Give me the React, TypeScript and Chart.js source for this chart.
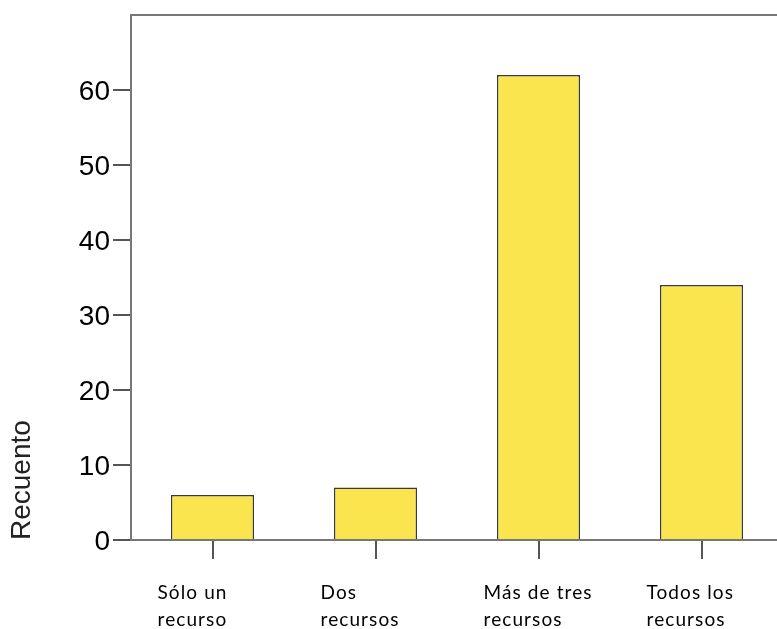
import React, { useEffect, useRef } from "react";
import { Chart, registerables } from "chart.js";

Chart.register(...registerables);

const categories: string[][] = [
  ["Sólo un", "recurso"],
  ["Dos", "recursos"],
  ["Más de tres", "recursos"],
  ["Todos los", "recursos"],
];
const counts: number[] = [6, 7, 62, 34];
const yTickValues: number[] = [0, 10, 20, 30, 40, 50, 60];
const yAxisTitle = "Recuento";

export default function App() {
  const ref = useRef<HTMLCanvasElement | null>(null);
  useEffect(() => {
    if (!ref.current) return;
    const spacingPlugin = {
      id: "xLabelSpacing",
      beforeDraw(chart: any) {
        chart.ctx.letterSpacing = "0px";
      },
      afterDatasetsDraw(chart: any) {
        chart.ctx.letterSpacing = "1.1px";
      },
      afterDraw(chart: any) {
        chart.ctx.letterSpacing = "0px";
      },
    };
    const chart = new Chart(ref.current, {
      type: "bar",
      data: {
        labels: categories,
        datasets: [
          {
            data: counts,
            backgroundColor: "#fbe54e",
            borderColor: "#3a3a3a",
            borderWidth: 1.5,
            barPercentage: 0.51,
            categoryPercentage: 1,
          },
        ],
      },
      options: {
        animation: false,
        responsive: false,
        devicePixelRatio: 1,
        layout: { padding: { top: 15, left: 0, right: 0, bottom: 0 } },
        plugins: { legend: { display: false }, tooltip: { enabled: false } },
        scales: {
          x: {
            type: "category",
            position: "bottom",
            grid: {
              display: true,
              drawOnChartArea: false,
              drawTicks: true,
              offset: false,
              tickLength: 19,
              tickColor: "#555",
              lineWidth: 2,
            },
            border: { display: true, color: "#777", width: 2 },
            ticks: {
              align: "start",
              labelOffset: -55,
              padding: 20,
              color: "#000",
              maxRotation: 0,
              minRotation: 0,
              autoSkip: false,
              z: 1,
              font: { family: "Lato", size: 19, lineHeight: 1.45 },
            },
            afterFit: (scale: any) => {
              scale.height = 640 - 540;
              scale.paddingLeft = 0;
              scale.paddingRight = 0;
            },
          },
          x2: {
            type: "category",
            position: "top",
            grid: { display: false, drawTicks: false },
            border: { display: true, color: "#777", width: 2 },
            ticks: { display: false },
            afterFit: (scale: any) => {
              scale.height = 0;
              scale.paddingLeft = 0;
              scale.paddingRight = 0;
            },
          },
          y: {
            type: "linear",
            position: "left",
            min: 0,
            max: 70,
            grid: {
              display: true,
              drawOnChartArea: false,
              drawTicks: true,
              tickLength: 18,
              tickColor: "#555",
              lineWidth: 2,
            },
            border: { display: true, color: "#777", width: 2 },
            ticks: {
              stepSize: 10,
              padding: 3,
              labelOffset: 2,
              color: "#000",
              font: { family: "Liberation Sans", size: 28 },
            },
            afterBuildTicks: (scale: any) => {
              scale.ticks = yTickValues.map((v) => ({ value: v }));
            },
            title: {
              display: true,
              text: yAxisTitle,
              align: "start",
              color: "#222",
              padding: { top: 5, bottom: 0 },
              font: { family: "Liberation Sans", size: 28, lineHeight: 1.2 },
            },
            afterFit: (scale: any) => {
              scale.width = 131;
              scale.paddingTop = 0;
              scale.paddingBottom = 0;
            },
          },
        },
      },
      plugins: [spacingPlugin],
    } as any);
    return () => chart.destroy();
  }, []);
  return (
    <div
      style={{
        position: "fixed",
        left: 0,
        top: 0,
        width: 777,
        height: 629,
        overflow: "hidden",
        background: "#fff",
      }}
    >
      <canvas
        ref={ref}
        width={783}
        height={640}
        style={{ display: "block", width: 783, height: 640 }}
      />
    </div>
  );
}
